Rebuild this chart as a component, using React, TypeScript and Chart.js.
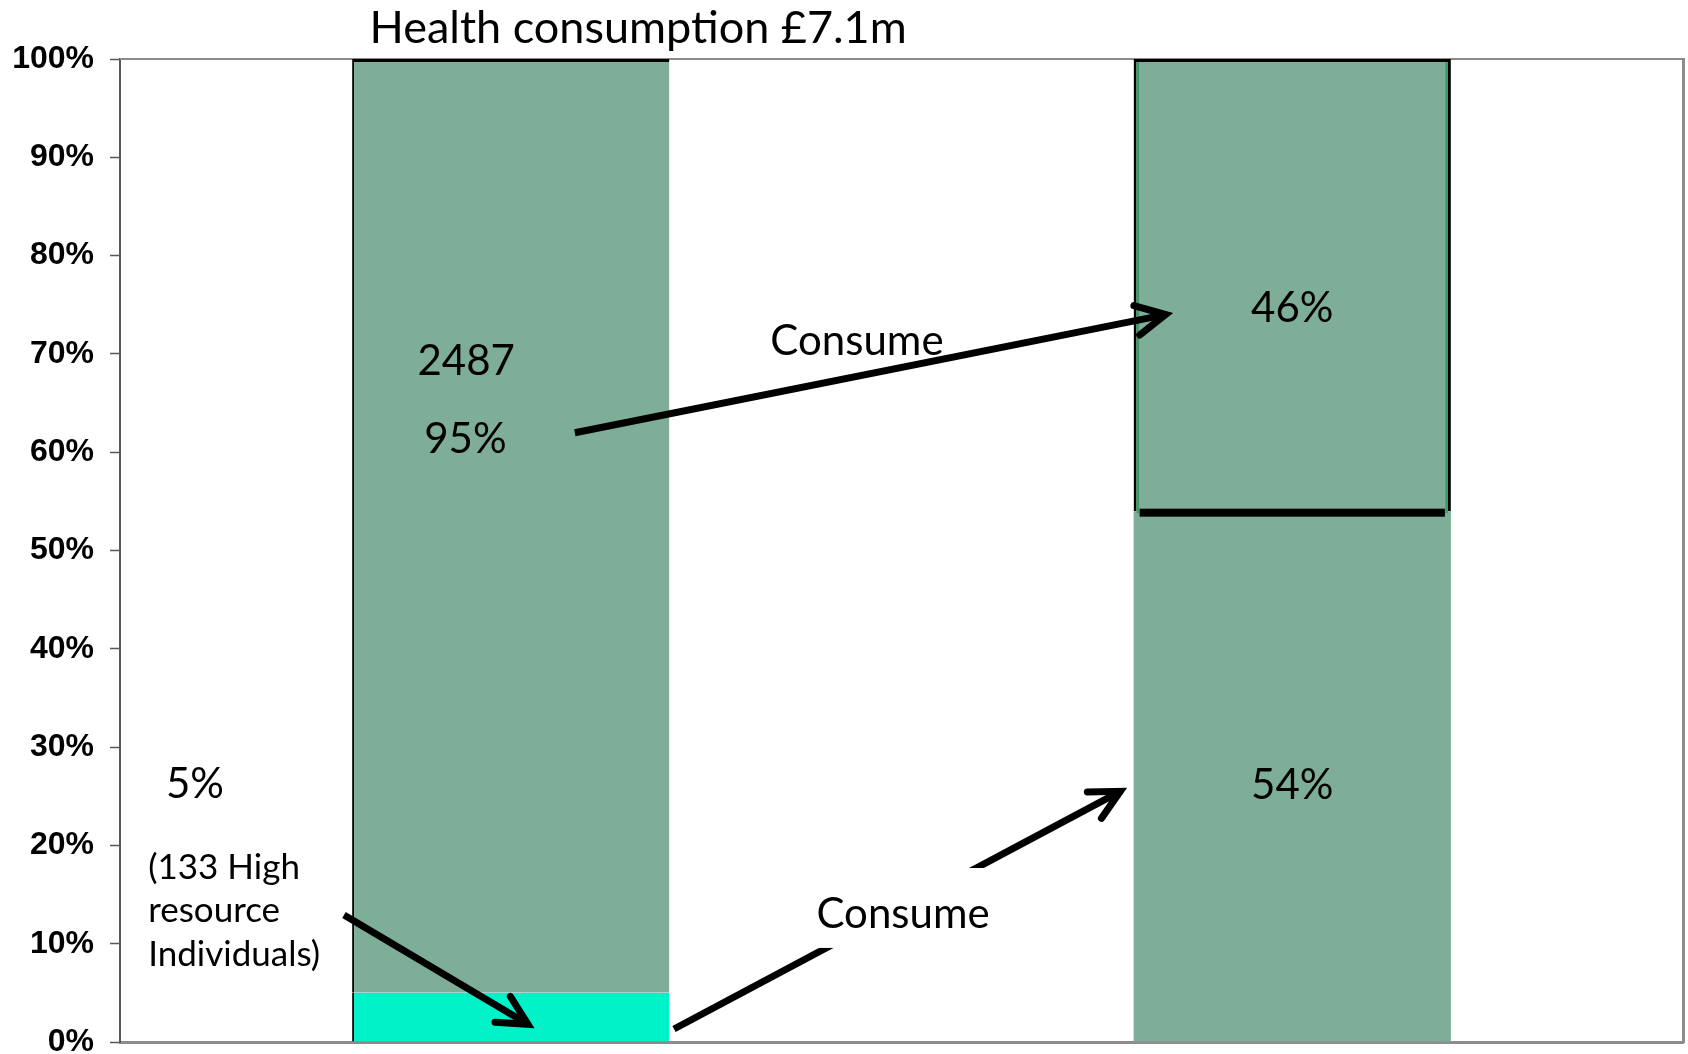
import React, { useEffect, useRef } from "react";
import { Chart, registerables } from "chart.js";

Chart.register(...registerables);

// ---- data ----
const categories = ["High resource individuals", "Health consumption"];
const highResourceShare = [5, 54];
const otherShare = [95, 46];
const yTickValues = [0, 10, 20, 30, 40, 50, 60, 70, 80, 90, 100];
const titleText = "Health consumption £7.1m";
const otherCount = "2487";
const otherPctLabel = "95%";
const highPctLabel = "5%";
const highNoteLines = ["(133 High", "resource", "Individuals)"];
const consumeLabel = "Consume";
const topConsumePct = "46%";
const bottomConsumePct = "54%";

// ---- styles ----
const GREEN = "rgb(126,174,152)";
const TEAL = "rgb(0,242,200)";
const DARK_GREEN = "rgb(58,154,100)";
const TEXT_FONT = "Lato, 'Open Sans', sans-serif";

// positions of annotations in data units (x: category index, y: percent)
const annot = {
  title: { x: 0.163, y: 101.6 },
  count: { x: -0.057, y: 67.9 },
  otherPct: { x: -0.058, y: 59.95 },
  highPct: { x: -0.404, y: 24.8 },
  note: { x: -0.464, y: [16.6, 12.25, 7.7] },
  consumeTop: { x: 0.443, y: 69.9 },
  consumeBottom: { x: 0.502, y: 11.6 },
  topPct: { x: 1.0, y: 73.2 },
  bottomPct: { x: 1.0, y: 24.7 },
  arrowTop: [0.082, 61.98, 0.838, 74.0],
  arrowNote: [-0.2134, 12.93, 0.022, 1.8],
  arrowBottom: [0.2089, 1.32, 0.780, 25.5],
  whiteBox: [0.375, 17.7, 0.632, 9.57],
};

function drawArrow(ctx: CanvasRenderingContext2D, x1: number, y1: number, x2: number, y2: number) {
  ctx.save();
  ctx.strokeStyle = "#000";
  ctx.lineWidth = 7;
  ctx.lineCap = "butt";
  ctx.beginPath();
  ctx.moveTo(x1, y1);
  ctx.lineTo(x2, y2);
  ctx.stroke();
  const ang = Math.atan2(y2 - y1, x2 - x1);
  const L = 33;
  const a = (27 * Math.PI) / 180;
  ctx.lineCap = "round";
  ctx.lineJoin = "miter";
  ctx.beginPath();
  ctx.moveTo(x2 - L * Math.cos(ang - a), y2 - L * Math.sin(ang - a));
  ctx.lineTo(x2, y2);
  ctx.lineTo(x2 - L * Math.cos(ang + a), y2 - L * Math.sin(ang + a));
  ctx.stroke();
  ctx.restore();
}

const framePlugin = {
  id: "frame",
  beforeDatasetsDraw(chart: any) {
    const { ctx, chartArea } = chart;
    ctx.save();
    ctx.fillStyle = "#8c8c8c";
    ctx.fillRect(chartArea.left, chartArea.top - 1, chartArea.right - chartArea.left, 2);
    ctx.fillRect(chartArea.right - 1, chartArea.top - 1, 3, chartArea.bottom - chartArea.top + 2);
    ctx.restore();
  },
};

const annotationPlugin = {
  id: "annotations",
  afterDatasetsDraw(chart: any) {
    const { ctx, scales } = chart;
    const xs = scales.x;
    const ys = scales.y;
    const p0 = xs.getPixelForValue(0);
    const p1 = xs.getPixelForValue(1);
    const px = (v: number) => p0 + v * (p1 - p0);
    const py = (v: number) => ys.getPixelForValue(v);

    // decorations of the 46% block
    const bar = chart.getDatasetMeta(1).data[1];
    const { x: bx, y: by, base, width } = bar.getProps(["x", "y", "base", "width"], true);
    const left = bx - width / 2;
    const right = bx + width / 2;
    ctx.save();
    ctx.fillStyle = DARK_GREEN;
    ctx.fillRect(left + 3, by + 3, 2.5, base - by - 1);
    ctx.fillRect(right - 5.5, by + 3, 2.5, base - by - 1);
    ctx.fillStyle = "#000";
    ctx.fillRect(left + 6, base - 2.5, width - 12, 8);
    ctx.restore();

    // arrows
    const a1 = annot.arrowTop;
    drawArrow(ctx, px(a1[0]), py(a1[1]), px(a1[2]), py(a1[3]));
    const a2 = annot.arrowNote;
    drawArrow(ctx, px(a2[0]), py(a2[1]), px(a2[2]), py(a2[3]));
    const a3 = annot.arrowBottom;
    drawArrow(ctx, px(a3[0]), py(a3[1]), px(a3[2]), py(a3[3]));

    // white box behind bottom label
    const wb = annot.whiteBox;
    ctx.save();
    ctx.fillStyle = "#fff";
    ctx.fillRect(px(wb[0]), py(wb[1]), px(wb[2]) - px(wb[0]), py(wb[3]) - py(wb[1]));
    ctx.restore();

    // texts
    ctx.save();
    ctx.fillStyle = "#000";
    ctx.textBaseline = "alphabetic";
    ctx.textAlign = "center";
    ctx.font = `45px ${TEXT_FONT}`;
    ctx.fillText(titleText, px(annot.title.x), py(annot.title.y));
    ctx.font = `42px ${TEXT_FONT}`;
    ctx.fillText(otherCount, px(annot.count.x), py(annot.count.y));
    ctx.fillText(otherPctLabel, px(annot.otherPct.x), py(annot.otherPct.y));
    ctx.fillText(highPctLabel, px(annot.highPct.x), py(annot.highPct.y));
    ctx.fillText(consumeLabel, px(annot.consumeTop.x), py(annot.consumeTop.y));
    ctx.fillText(consumeLabel, px(annot.consumeBottom.x), py(annot.consumeBottom.y));
    ctx.fillText(topConsumePct, px(annot.topPct.x), py(annot.topPct.y));
    ctx.fillText(bottomConsumePct, px(annot.bottomPct.x), py(annot.bottomPct.y));
    ctx.textAlign = "left";
    ctx.font = `35px ${TEXT_FONT}`;
    highNoteLines.forEach((line, i) => {
      ctx.fillText(line, px(annot.note.x), py(annot.note.y[i]));
    });
    ctx.restore();
  },
};

export default function App() {
  const canvasRef = useRef<HTMLCanvasElement | null>(null);

  useEffect(() => {
    if (!canvasRef.current) return;
    const chart = new Chart(canvasRef.current, {
      type: "bar",
      data: {
        labels: categories,
        datasets: [
          {
            label: "High resource",
            data: highResourceShare,
            backgroundColor: [TEAL, GREEN],
            borderColor: "#000",
            borderWidth: [{ left: 2, top: 0, right: 0, bottom: 0 }, 0] as any,
            borderSkipped: false,
            barPercentage: 0.406,
            categoryPercentage: 1,
          },
          {
            label: "Others",
            data: otherShare,
            backgroundColor: GREEN,
            borderColor: "#000",
            borderWidth: [
              { left: 2, top: 3, right: 0, bottom: 0 },
              { left: 3, top: 3, right: 3, bottom: 0 },
            ] as any,
            borderSkipped: false,
            barPercentage: 0.406,
            categoryPercentage: 1,
          },
        ],
      },
      options: {
        animation: false,
        responsive: true,
        maintainAspectRatio: false,
        layout: { padding: { top: 59, right: 5, bottom: 12, left: 0 } },
        plugins: {
          legend: { display: false },
          tooltip: { enabled: false },
          title: { display: false },
        },
        scales: {
          x: {
            stacked: true,
            ticks: { display: false },
            grid: { display: false, drawTicks: false },
            border: { display: true, color: "#8c8c8c", width: 3 },
            afterFit: (s: any) => {
              s.height = 0;
              s.paddingLeft = 0;
              s.paddingRight = 0;
              s.paddingTop = 0;
              s.paddingBottom = 0;
            },
          },
          y: {
            stacked: true,
            min: 0,
            max: 100,
            afterBuildTicks: (s: any) => {
              s.ticks = yTickValues.map((v) => ({ value: v }));
            },
            ticks: {
              padding: 16,
              color: "#000",
              font: { family: "'Liberation Sans', Arial, sans-serif", size: 32, weight: "bold" },
              callback: (v: any) => `${v}%`,
            },
            grid: {
              display: true,
              drawOnChartArea: false,
              drawTicks: true,
              tickLength: 10,
              tickColor: "#595959",
              tickWidth: 1.5,
            },
            border: { display: true, color: "#595959", width: 2 },
            afterFit: (s: any) => {
              s.width = 120;
              s.paddingTop = 0;
              s.paddingBottom = 0;
            },
          },
        },
      },
      plugins: [framePlugin, annotationPlugin],
    });
    return () => chart.destroy();
  }, []);

  return (
    <div style={{ position: "fixed", left: 0, top: 0, width: "1688px", height: "1054px", background: "#fff" }}>
      <canvas ref={canvasRef} />
    </div>
  );
}
